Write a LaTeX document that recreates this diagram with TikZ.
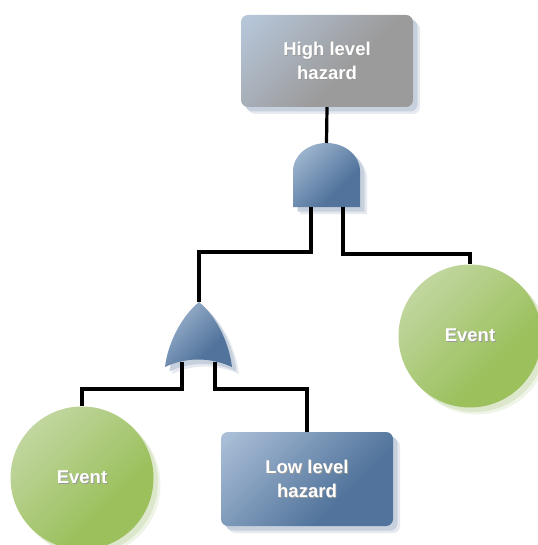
\documentclass[tikz,border=0pt]{standalone}
\usepackage{fontspec}
\setmainfont{Liberation Sans}
\usetikzlibrary{shadows}

% palette
\definecolor{grayA}{HTML}{B9CBE0}
\definecolor{grayB}{HTML}{9B9B9B}
\definecolor{blueA}{HTML}{B6C9DF}
\definecolor{blueB}{HTML}{52749C}
\definecolor{greenA}{HTML}{D0DFB9}
\definecolor{greenB}{HTML}{9BC05C}
\definecolor{shblue}{HTML}{C7D1DE}
\definecolor{shgreen}{HTML}{DCE7CB}

% diagonal fills: light corner at the top left, the rest in the main colour
\pgfdeclareverticalshading{grayfill}{100bp}{color(0bp)=(grayB); color(42bp)=(grayB); color(88bp)=(grayA); color(100bp)=(grayA)}
\pgfdeclareverticalshading{bluefill}{100bp}{color(0bp)=(blueB); color(36bp)=(blueB); color(90bp)=(blueA); color(100bp)=(blueA)}
\pgfdeclareverticalshading{greenfill}{100bp}{color(0bp)=(greenB); color(36bp)=(greenB); color(90bp)=(greenA); color(100bp)=(greenA)}

% white label with a faint dark drop shadow
\newcommand\shtxt[1]{\leavevmode\rlap{\kern0.9pt\raisebox{-0.9pt}{\textcolor{black!40}{#1}}}#1}

\tikzset{
  lbl/.style={text=white, font=\fontsize{18.5}{24}\selectfont\bfseries, align=center},
  softshadow/.style={
    general shadow={fill=#1, opacity=0.45, shadow xshift=7pt, shadow yshift=-7pt},
    general shadow={fill=#1, shadow xshift=4.5pt, shadow yshift=-4.5pt}},
  diag/.style={shade, shading=#1, shading angle=45},
  hazbox/.style={lbl, rectangle, rounded corners=7pt, minimum width=172pt, inner sep=0pt,
    softshadow=shblue},
  event/.style={lbl, circle, minimum size=143pt, inner sep=0pt,
    diag=greenfill, softshadow=shgreen},
  gate/.style={diag=bluefill, softshadow=shblue},
  wire/.style={draw=black, line width=3.2pt},
}

\begin{document}
\begin{tikzpicture}[x=1pt, y=-1pt]
  \useasboundingbox (0,0) rectangle (537,545);

  % events and hazards
  \node[hazbox, minimum height=92pt, diag=grayfill]
    (high) at (327,61) {\shtxt{High level}\\\shtxt{hazard}};
  \node[hazbox, minimum height=94pt, diag=bluefill]
    (low) at (307,479) {\shtxt{Low level}\\\shtxt{hazard}};
  \node[event] (evL) at (82,478) {\shtxt{Event}};
  \node[event] (evR) at (470,336) {\shtxt{Event}};

  % AND gate
  \path[gate] (293,207) -- (293,171) arc[start angle=180, end angle=0, x radius=33.5pt, y radius=28pt]
    -- (360,207) -- cycle;
  \coordinate (andOut) at (326.5,143);
  \coordinate (andInL) at (311,207);
  \coordinate (andInR) at (343,207);

  % OR gate
  \path[gate] (199,302) .. controls (182,316) and (168,342) .. (165,367)
    .. controls (186,357) and (210,357) .. (232,367)
    .. controls (229,342) and (216,316) .. (199,302) -- cycle;
  \coordinate (orOut) at (199,302);
  \coordinate (orInL) at (182,362);
  \coordinate (orInR) at (215,362);

  % connectors
  \draw[wire] (high.south) -- (andOut);
  \draw[wire] (andInL) -- ++(0,45) -| (orOut);
  \draw[wire] (andInR) -- ++(0,47) -| (evR.north);
  \draw[wire] (orInL) -- ++(0,27) -| (evL.north);
  \draw[wire] (orInR) -- ++(0,27) -| (low.north);
\end{tikzpicture}
\end{document}
